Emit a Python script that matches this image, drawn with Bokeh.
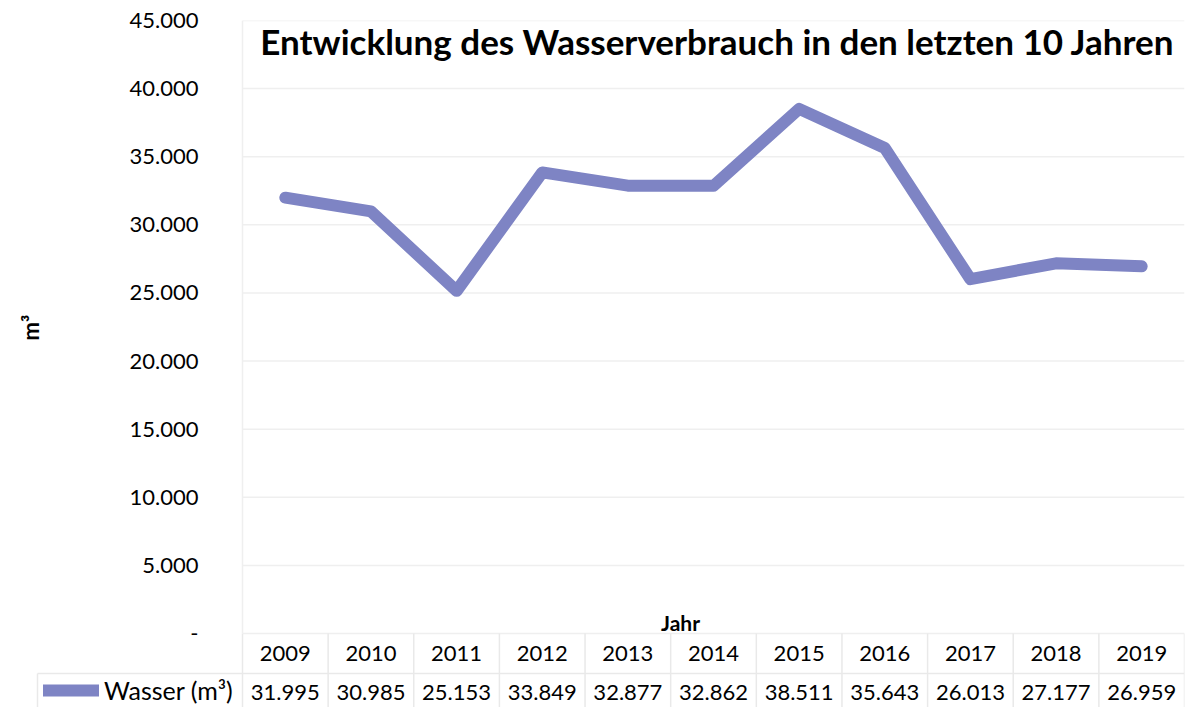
import math
from bokeh.plotting import figure
from bokeh.models import (Range1d, LinearAxis, FixedTicker, Label, Legend, LegendItem,
                          ColumnDataSource)
from bokeh.core.properties import value
from bokeh.embed import file_html
from bokeh.resources import INLINE

# ---- data ----
years = ["2009", "2010", "2011", "2012", "2013", "2014", "2015", "2016", "2017", "2018", "2019"]
water = [31995, 30985, 25153, 33849, 32877, 32862, 38511, 35643, 26013, 27177, 26959]
y_ticks = [0, 5000, 10000, 15000, 20000, 25000, 30000, 35000, 40000, 45000]
chart_title = "Entwicklung des Wasserverbrauch in den letzten 10 Jahren"
series_name = "Wasser (m³)"
x_title = "Jahr"
y_title = "m³"


def de(n):
    return "-" if n == 0 else f"{n:,}".replace(",", ".")


FONT = "Lato"
LINE_COLOR = "#7e84c4"
GRID_COLOR = "#efefef"
TABLE_COLOR = "#e9e9e9"

# ---- geometry (pixels on the canvas) ----
W, H = 1186, 707
FL, FR, FT = 10, 1184, 20          # frame left / right / top
X0 = 242                            # plot area left edge (start of first category)
ZERO = 633                          # pixel row of value 0
n = len(years)
col = (FR - X0) / n
k = 45000 / (ZERO - FT)             # value per pixel


def dx(px):
    return (px - X0) / col


def dy(py):
    return (ZERO - py) * k


x_start = dx(FL)
y_start = dy(H)
row2_top = dy(673)
year_y = dy(653)
val_y = dy(692)

xs = [i + 0.5 for i in range(n)]

p = figure(width=W, height=H, x_range=Range1d(x_start, n), y_range=Range1d(y_start, 45000),
           output_backend="svg", toolbar_location=None,
           x_axis_location=None, y_axis_location=None,
           min_border_left=FL, min_border_right=W - FR, min_border_top=FT,
           min_border_bottom=0)
p.outline_line_color = None
p.background_fill_color = "white"
p.border_fill_color = "white"
p.xgrid.visible = False
p.ygrid.visible = False

# y axis (labels shifted into the canvas area left of the plot area)
yaxis = LinearAxis(ticker=FixedTicker(ticks=y_ticks))
yaxis.major_label_overrides = {t: de(t) for t in y_ticks}
yaxis.axis_line_color = None
yaxis.major_tick_line_color = None
yaxis.minor_tick_line_color = None
yaxis.major_tick_out = 0
yaxis.major_tick_in = 0
yaxis.major_label_text_font = FONT
yaxis.major_label_text_font_size = "22px"
yaxis.major_label_text_color = "#000000"
yaxis.major_label_standoff = -(198 - FL)
p.add_layout(yaxis, "left")

# horizontal gridlines of the plot area
p.segment(x0=[0] * len(y_ticks), y0=y_ticks, x1=[n] * len(y_ticks), y1=y_ticks,
          line_color=GRID_COLOR, line_width=1.5)

# data table lines
vx = list(range(n + 1))
p.segment(x0=vx, y0=[y_start] * (n + 1), x1=vx, y1=[0] * (n + 1),
          line_color=TABLE_COLOR, line_width=1.5)
p.segment(x0=[0], y0=[0], x1=[0], y1=[45000], line_color=GRID_COLOR, line_width=1.5)
p.segment(x0=[dx(37)], y0=[row2_top], x1=[n], y1=[row2_top],
          line_color=TABLE_COLOR, line_width=1.5)
p.segment(x0=[dx(37)], y0=[y_start], x1=[dx(37)], y1=[row2_top],
          line_color=TABLE_COLOR, line_width=1.5)

# the series
r = p.line(xs, water, line_color=LINE_COLOR, line_width=12, line_cap="round",
           line_join="round")

# data table texts
src = ColumnDataSource(dict(x=xs, year=years, val=[de(v) for v in water],
                            yy=[year_y] * n, vy=[val_y] * n))
p.text(x="x", y="yy", text="year", source=src, text_font=value(FONT),
       text_font_size="22px", text_align="center", text_baseline="middle",
       text_color="#000000")
p.text(x="x", y="vy", text="val", source=src, text_font=value(FONT),
       text_font_size="22px", text_align="center", text_baseline="middle",
       text_color="#000000")

# legend key in the table
legend = Legend(items=[LegendItem(label=series_name, renderers=[r])],
                location=(43 - FL, 2), glyph_width=56, glyph_height=20,
                label_standoff=5, padding=0, margin=0, spacing=0,
                border_line_color=None, background_fill_alpha=0,
                label_text_font=FONT, label_text_font_size="25px",
                label_text_color="#000000")
p.add_layout(legend)

# title, axis titles
p.add_layout(Label(x=dx(717), y=dy(40), text=chart_title, text_font=FONT,
                   text_font_style="bold", text_font_size="35px", text_align="center",
                   text_baseline="middle", text_color="#000000"))
p.add_layout(Label(x=dx(680), y=dy(622), text=x_title, text_font=FONT,
                   text_font_style="bold", text_font_size="21px", text_align="center",
                   text_baseline="middle", text_color="#000000"))
p.add_layout(Label(x=dx(30), y=dy(327), text=y_title, text_font=FONT, angle=math.pi / 2,
                   text_font_style="bold", text_font_size="22px", text_align="center",
                   text_baseline="middle", text_color="#000000"))

open("out.html", "w").write(file_html(p, INLINE))
